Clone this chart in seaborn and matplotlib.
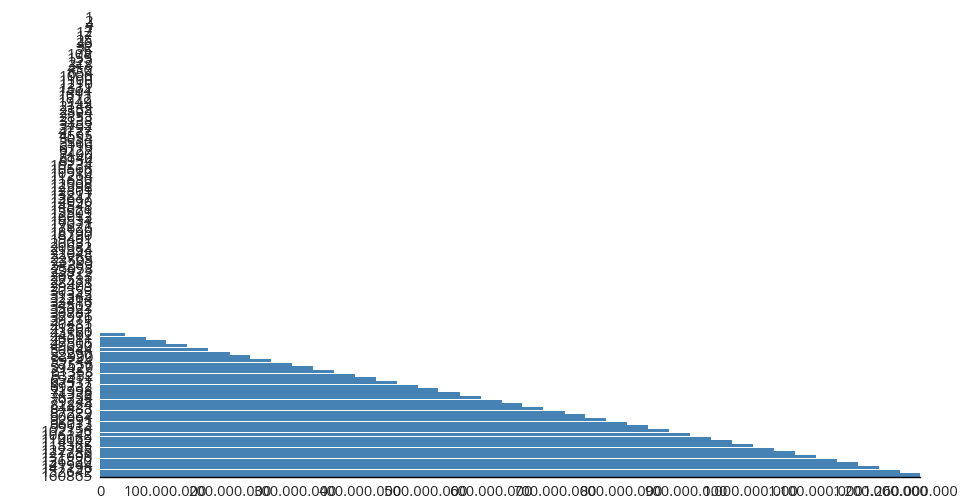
import numpy as np
import pandas as pd
import matplotlib
matplotlib.use("Agg")
import matplotlib.pyplot as plt
import matplotlib.transforms as mtransforms
import seaborn as sns
from matplotlib.ticker import FuncFormatter

# category labels (top -> bottom)
labels_1d = [1, 2, 4, 7]
labels_2d = [12, 17, 25, 36, 52, 75]
labels_3d = [108, 155, 222, 318, 456, 654]
labels_4d = [1000, 1100, 1210, 1331, 1464, 1611, 1772, 1949, 2144, 2358,
             2594, 2853, 3138, 3452, 3797, 4177, 4595, 5054, 5560, 6116,
             6727, 7400, 8140, 8954]
labels_5d = [10234, 10566, 10910, 11264, 11630, 12008, 12398, 12801, 13217, 13647,
             14090, 14548, 15021, 15509, 16013, 16534, 17071, 17626, 18199, 18790,
             19401, 20031, 20682, 21354, 22048, 22765, 23505, 24269, 25058, 25872,
             26713, 27581, 28478, 29403, 30359, 31345, 32364, 33416, 34502, 35623,
             36781, 37976, 39211, 40485, 41801, 43160, 44562, 46011, 47506, 49050,
             50644, 52290, 53990, 55744, 57556, 59427, 61358, 63352, 65411, 67537,
             69732, 71998, 74338, 76754, 79248, 81824, 84483, 87229, 90064, 92991,
             96013, 99134]
labels_6d = [102356, 106142, 110069, 114142, 118365, 122745, 127286, 131996,
             136880, 141944, 147196, 152642, 160865]

# bar values: the upper rows are too small to see
hidden_values = [0, 0, 0, 0, 0, 0, 0, 0, 0, 0,
                 0, 0, 0, 0, 0, 0, 0, 0, 0, 0,
                 0, 0, 0, 0, 0, 0, 0, 0, 0, 0,
                 0, 0, 0, 0, 0, 0, 0, 0, 0, 0,
                 0, 0, 0, 0, 0, 0, 0, 0, 0, 0,
                 0, 0, 0, 0, 0, 0, 0, 0, 0, 0,
                 0, 0, 0, 0, 0, 0, 0, 0, 0, 0,
                 0, 0, 0, 0, 0, 0, 0, 0, 0, 0,
                 0, 0, 0, 0, 0, 0]
visible_values = [38e6, 70e6, 102e6, 134e6, 166e6, 199e6, 231e6, 263e6, 295e6, 327e6,
                  359e6, 392e6, 424e6, 456e6, 488e6, 520e6, 553e6, 585e6, 617e6, 649e6,
                  681e6, 714e6, 746e6, 778e6, 810e6, 842e6, 875e6, 907e6, 939e6, 971e6,
                  1003e6, 1036e6, 1068e6, 1100e6, 1132e6, 1164e6, 1197e6, 1229e6, 1260e6]

x_ticks = [0, 100e6, 200e6, 300e6, 400e6, 500e6, 600e6, 700e6, 800e6, 900e6,
           1000e6, 1100e6, 1200e6, 1260e6]

categories = [str(v) for v in labels_1d + labels_2d + labels_3d + labels_4d + labels_5d + labels_6d]
values = hidden_values + visible_values

df = pd.DataFrame({'category': categories, 'value': values})

sns.set_style("white")
plt.rcParams['font.family'] = ['Open Sans', 'DejaVu Sans']

fig, ax = plt.subplots(figsize=(9.6, 5.0), dpi=100)
fig.subplots_adjust(left=100/960, right=920/960, top=1 - 15/500, bottom=1 - 477/500)

sns.barplot(data=df, y='category', x='value', order=categories, color='#4682b4',
            saturation=1, width=0.9, orient='h', linewidth=0, ax=ax)

ax.set_xlim(0, 1260e6)
ax.set_xticks(x_ticks)
ax.xaxis.set_major_formatter(FuncFormatter(lambda v, p: f"{int(round(v)):,}".replace(",", ".")))
ax.tick_params(axis='x', length=6, width=1, color='black', labelsize=10.5, pad=0)
ax.tick_params(axis='y', length=0, labelsize=11, pad=5)
ax.set_xlabel('')
ax.set_ylabel('')

# last label sits on the right edge, nudge it in a little
last = ax.get_xticklabels()[-1]
last.set_transform(last.get_transform() + mtransforms.ScaledTranslation(-9/100, 0, fig.dpi_scale_trans))

for s in ['top', 'right', 'left']:
    ax.spines[s].set_visible(False)
ax.spines['bottom'].set_color('black')
ax.spines['bottom'].set_linewidth(1)

plt.savefig('out.png', dpi=100)
